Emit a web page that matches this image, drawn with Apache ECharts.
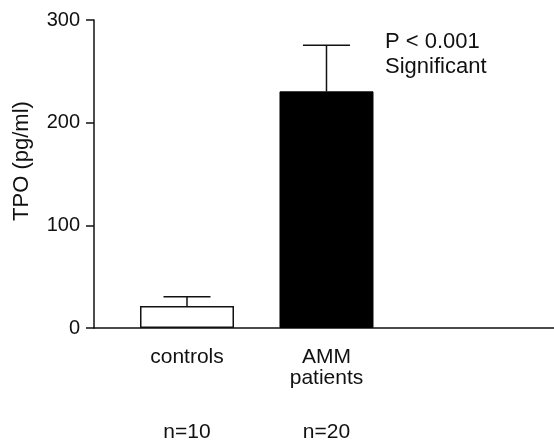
<!DOCTYPE html>
<html>
<head>
<meta charset="utf-8">
<script src="https://cdn.jsdelivr.net/npm/echarts@6/dist/echarts.min.js"></script>
<style>
  html, body { margin: 0; padding: 0; background: #fff; }
  #chart { width: 554px; height: 446px; }
</style>
</head>
<body>
<div id="chart"></div>
<script>
var groups = ['controls', 'AMM\npatients']
var groupCounts = ['n=10', 'n=20']
var groupPos = [1, 2]
var means = [21.5, 230.5]
var upperErr = [30.5, 275.5]
var yTicks = [0, 100, 200, 300]

var font = 'Arial, "Liberation Sans", sans-serif'
var ink = '#111'

var chart = echarts.init(document.getElementById('chart'))

var barData = groupPos.map(function (x, i) {
  return {
    value: [x, means[i]],
    itemStyle: i === 0
      ? { color: '#fff', borderColor: ink, borderWidth: 1.5 }
      : { color: '#000', borderColor: '#000', borderWidth: 1 }
  }
})
var errData = groupPos.map(function (x, i) {
  return [x, means[i], upperErr[i]]
})

var option = {
  animation: false,
  grid: { left: 94, right: 0, top: 20, bottom: 118 },
  xAxis: [
    {
      type: 'value',
      min: 0.3333,
      max: 3.631,
      splitLine: { show: false },
      axisLine: { lineStyle: { color: ink, width: 1.5 } },
      axisTick: { show: false },
      axisLabel: {
        customValues: groupPos,
        margin: 19,
        fontFamily: font,
        fontSize: 21,
        lineHeight: 21,
        color: ink,
        formatter: function (v) { return groups[groupPos.indexOf(v)] || '' }
      }
    },
    {
      type: 'value',
      position: 'bottom',
      offset: 94,
      min: 0.3333,
      max: 3.631,
      splitLine: { show: false },
      axisLine: { show: false },
      axisTick: { show: false },
      axisLabel: {
        customValues: groupPos,
        margin: 0,
        fontFamily: font,
        fontSize: 21,
        color: ink,
        formatter: function (v) { return groupCounts[groupPos.indexOf(v)] || '' }
      }
    }
  ],
  yAxis: {
    type: 'value',
    min: yTicks[0],
    max: yTicks[yTicks.length - 1],
    interval: 100,
    splitLine: { show: false },
    axisLine: { show: true, lineStyle: { color: ink, width: 1.5 } },
    axisTick: { show: true, length: 8, lineStyle: { color: ink, width: 1.5 } },
    axisLabel: { margin: 14, fontFamily: font, fontSize: 20, color: ink }
  },
  graphic: [
    {
      type: 'text',
      x: 22, y: 161,
      rotation: Math.PI / 2,
      style: {
        text: 'TPO (pg/ml)',
        font: '22px ' + font,
        fill: ink,
        align: 'center',
        verticalAlign: 'middle'
      }
    },
    {
      type: 'text',
      left: 385, top: 29,
      style: {
        text: 'P < 0.001\nSignificant',
        font: '22px ' + font,
        lineHeight: 25,
        fill: ink
      }
    }
  ],
  series: [
    {
      type: 'bar',
      barWidth: 94,
      data: barData
    },
    {
      type: 'custom',
      data: errData,
      z: 1,
      renderItem: function (params, api) {
        var x = api.value(0)
        var lo = api.coord([x, api.value(1)])
        var hi = api.coord([x, api.value(2)])
        var half = 23.5
        var style = { stroke: ink, lineWidth: 1.5 }
        return {
          type: 'group',
          children: [
            { type: 'line', shape: { x1: lo[0], y1: lo[1], x2: hi[0], y2: hi[1] }, style: style },
            { type: 'line', shape: { x1: hi[0] - half, y1: hi[1], x2: hi[0] + half, y2: hi[1] }, style: style }
          ]
        }
      }
    }
  ]
}

chart.setOption(option)
</script>
</body>
</html>
